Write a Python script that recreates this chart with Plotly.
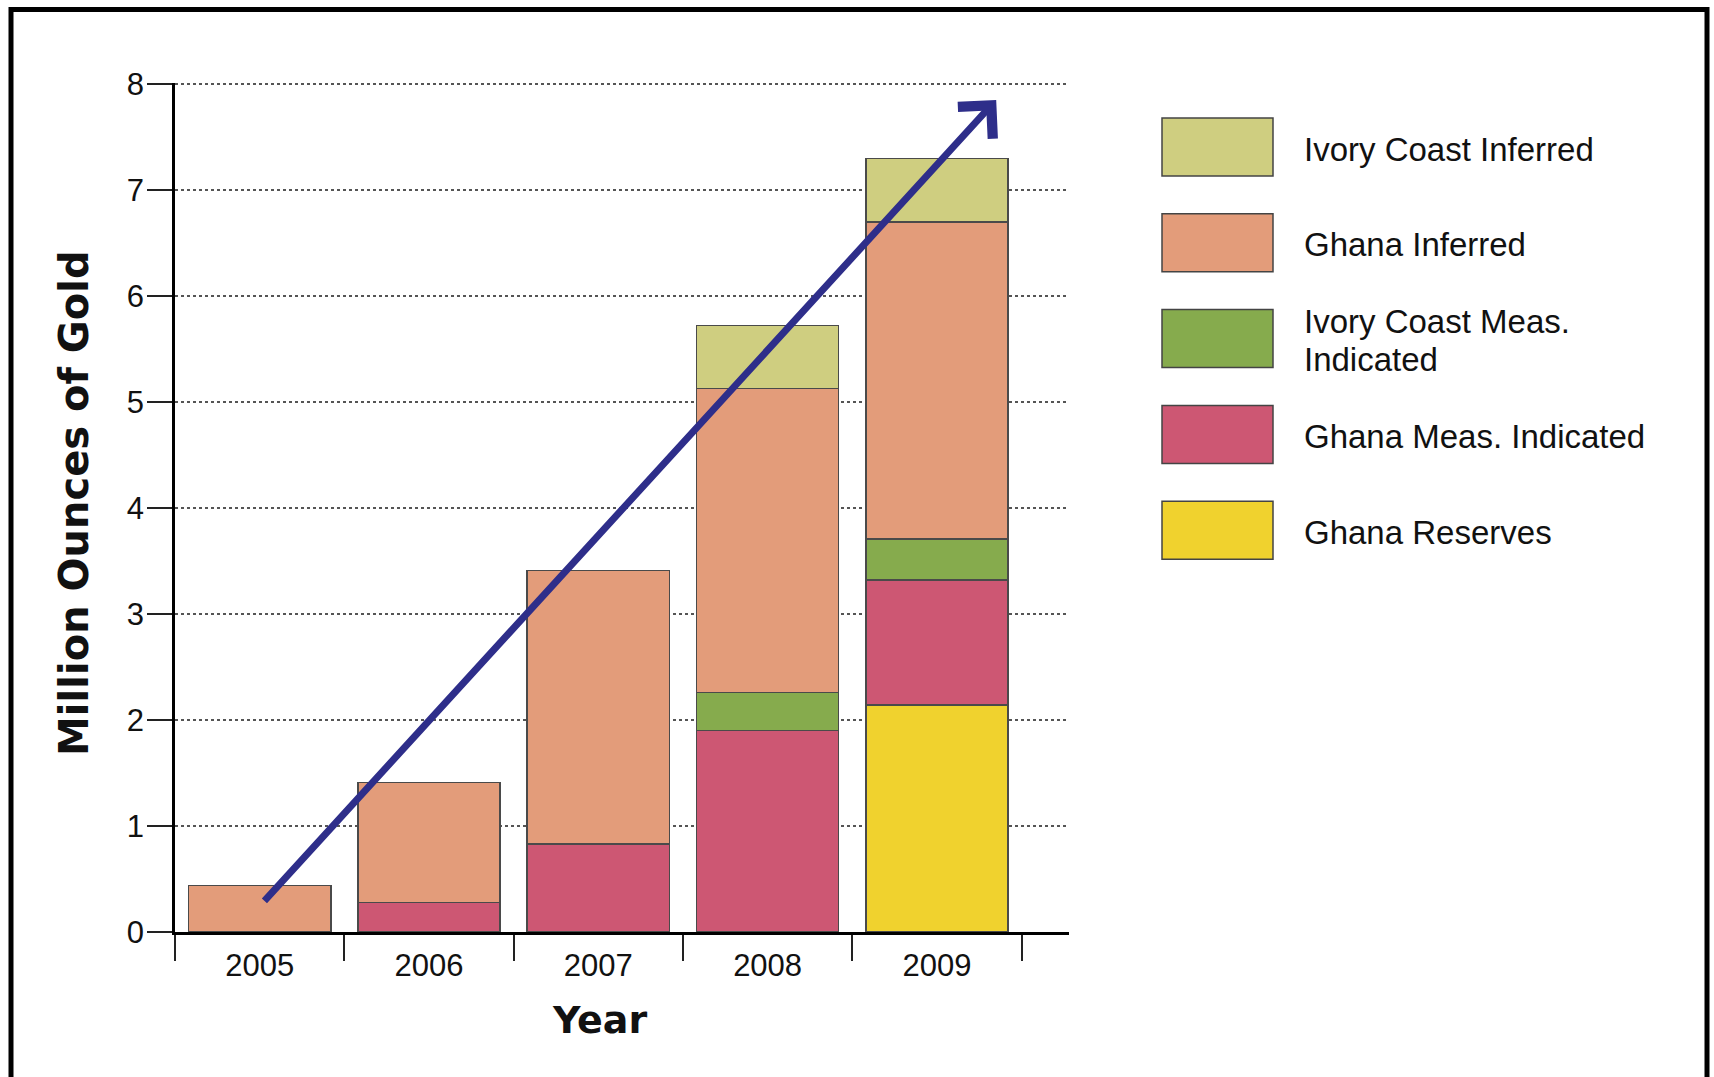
import plotly.graph_objects as go

# ---------------- data ----------------
years = ["2005", "2006", "2007", "2008", "2009"]
ghana_reserves = [None, None, None, None, 2.14]
ghana_meas_ind = [None, 0.28, 0.83, 1.90, 1.18]
ivory_meas_ind = [None, None, None, 0.36, 0.39]
ghana_inferred = [0.44, 1.13, 2.58, 2.87, 2.99]
ivory_inferred = [None, None, None, 0.59, 0.60]

series_names = ["Ghana Reserves", "Ghana Meas. Indicated", "Ivory Coast Meas.<br>Indicated",
                "Ghana Inferred", "Ivory Coast Inferred"]
series_values = [ghana_reserves, ghana_meas_ind, ivory_meas_ind, ghana_inferred, ivory_inferred]
series_colors = ["#F0D22E", "#CD5773", "#86AB4D", "#E39C7A", "#CFCE80"]

y_ticks = [0, 1, 2, 3, 4, 5, 6, 7, 8]
trend_start = (0.02, 0.28)   # (category index, value)
trend_end = (4.35, 7.85)

# ---------------- layout geometry (pixels) ----------------
W, H = 1714, 1077
L, R, T, B = 175, 645, 83, 145
PW, PH = W - L - R, H - T - B


def px(x):
    return (x - L) / PW


def py(y):
    return (H - B - y) / PH


fig = go.Figure()
for name, vals, col in zip(series_names, series_values, series_colors):
    fig.add_trace(go.Bar(
        x=years, y=vals, name=name.replace("<br>", " "),
        marker=dict(color=col, line=dict(color="#4a4a4a", width=1.5)),
        showlegend=False,
    ))

# trend arrow
fig.add_annotation(
    x=trend_end[0], y=trend_end[1],
    ax=trend_start[0], ay=trend_start[1],
    xref="x", yref="y", axref="x", ayref="y",
    text="", showarrow=True, arrowhead=4, arrowsize=1.3,
    arrowwidth=7, arrowcolor="#2E2E8A", standoff=0, startstandoff=0,
)

# legend drawn manually (large swatches)
legend_font = dict(family="Liberation Sans, Arial, sans-serif", size=33, color="#111111")
legend_order = list(reversed(range(len(series_names))))
box_top0, box_h, box_step = 118, 58, 95.8
for i, idx in enumerate(legend_order):
    top = box_top0 + i * box_step
    fig.add_shape(type="rect", xref="paper", yref="paper",
                  x0=px(1162), x1=px(1273), y0=py(top), y1=py(top + box_h),
                  fillcolor=series_colors[idx], line=dict(color="#444444", width=1.5))
    lines = series_names[idx].split("<br>")
    n = len(lines)
    for j, line in enumerate(lines):
        cy = top + box_h / 2 + 2 + (j - (n - 1) / 2) * 38
        fig.add_annotation(xref="paper", yref="paper", x=px(1302), y=py(cy),
                           text=line, showarrow=False, xanchor="left", yanchor="middle",
                           align="left", font=legend_font)

# axis titles
fig.add_annotation(xref="paper", yref="paper", x=px(74), y=py(503), text="<b>Million Ounces of Gold</b>",
                   textangle=-90, showarrow=False, xanchor="center", yanchor="middle",
                   font=dict(family="DejaVu Sans, sans-serif", size=40, color="#111111"))
fig.add_annotation(xref="paper", yref="paper", x=px(599), y=py(1020), text="<b>Year</b>",
                   showarrow=False, xanchor="center", yanchor="middle",
                   font=dict(family="DejaVu Sans, sans-serif", size=38, color="#111111"))

# outer frame
fig.add_shape(type="rect", xref="paper", yref="paper",
              x0=px(11), x1=px(1707), y0=py(9.5), y1=py(1100),
              line=dict(color="black", width=5), fillcolor="rgba(0,0,0,0)", layer="above")

tick_font = dict(family="Liberation Sans, Arial, sans-serif", size=31, color="#111111")

fig.update_layout(
    width=W, height=H,
    margin=dict(l=L, r=R, t=T, b=B, pad=0),
    paper_bgcolor="white", plot_bgcolor="white",
    barmode="stack", bargap=0.16,
    xaxis=dict(
        type="category", range=[-0.5, 4.78], tickson="boundaries",
        ticks="outside", ticklen=26, tickwidth=2, tickcolor="#222222",
        showline=True, linecolor="black", linewidth=3,
        showgrid=False, tickfont=tick_font, ticklabelstandoff=4,
        fixedrange=True,
    ),
    yaxis=dict(
        range=[0, 8.01], tickvals=y_ticks, ticks="outside", ticklen=25, tickwidth=2,
        tickcolor="#222222", showline=True, linecolor="black", linewidth=2.5,
        showgrid=True, gridcolor="#555555", gridwidth=1.5, griddash="dot",
        zeroline=False, tickfont=tick_font, ticklabelstandoff=-3, fixedrange=True,
    ),
)

fig.write_html("out.html", config={"displayModeBar": False})
